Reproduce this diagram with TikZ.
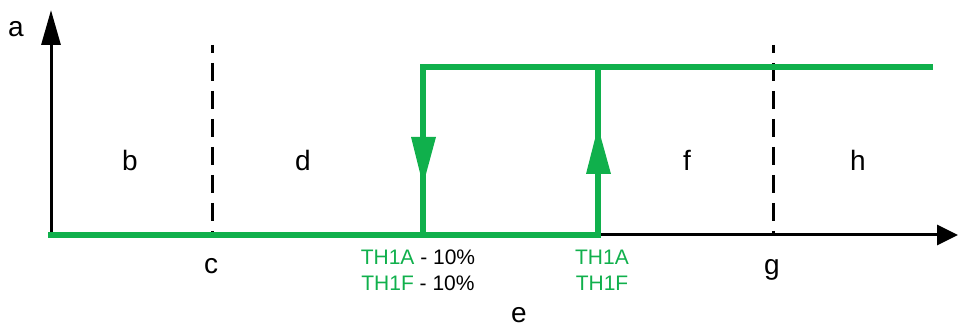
\documentclass[tikz,border=0pt]{standalone}
\usepackage{fontspec}
\setmainfont{Liberation Sans}
\usetikzlibrary{arrows.meta}
\definecolor{grn}{RGB}{16,176,76}
\begin{document}
\begin{tikzpicture}[x=1pt,y=-1pt,
  lbl/.style={font=\fontsize{21}{24}\selectfont, inner sep=0pt},
  big/.style={font=\fontsize{28}{32}\selectfont, inner sep=0pt},
  axis/.style={line width=3pt, black},
  grnline/.style={line width=5.5pt, grn, line cap=rect},
  guide/.style={line width=3pt, black, dash pattern=on 18pt off 10pt, dash phase=10pt},
  tri/.style={fill=grn}]
\useasboundingbox (0,0) rectangle (958,328);
% axes
\coordinate (o) at (51,235);
\coordinate (ytop) at (51,10);
\coordinate (xend) at (958,235);
\draw[axis, -{Triangle[length=35pt,width=19pt]}] (o) -- (ytop);
\draw[axis, -{Triangle[length=21pt,width=20pt]}] (o) -- (xend);
% dashed guides
\coordinate (c1t) at (212,45); \coordinate (c1b) at (212,235);
\coordinate (g1t) at (773,45); \coordinate (g1b) at (773,235);
\draw[guide] (c1t) -- (c1b);
\draw[guide] (g1t) -- (g1b);
% green hysteresis
\coordinate (s0) at (48,235);
\coordinate (p1) at (423,235);
\coordinate (p2) at (423,67);
\coordinate (q1) at (598,235);
\coordinate (q2) at (598,67);
\coordinate (tend) at (930,67);
\draw[grnline, line cap=butt] (s0) -- (q1);
\draw[grnline, line join=miter] (p1) -- (p2) -- (tend);
\draw[grnline] (q2) -- (q1);
\fill[tri] (411,137) -- (436,137) -- (423,185) -- cycle;
\fill[tri] (586,174) -- (611,174) -- (598,127) -- cycle;
% labels
\node[big] (a) at (16,29) {a};
\node[big] (b) at (130,160) {b};
\node[big] (d) at (303,160) {d};
\node[big] (f) at (687,160) {f};
\node[big] (h) at (858,160) {h};
\node[big] (c) at (211,266) {c};
\node[big] (g) at (772,270) {g};
\node[big] (e) at (519,315) {e};
\node[lbl] (l1) at (418,257) {\textcolor{grn}{TH1A} - 10\%};
\node[lbl] (l2) at (418,283) {\textcolor{grn}{TH1F} - 10\%};
\node[lbl, text=grn] (r1) at (602,257) {TH1A};
\node[lbl, text=grn] (r2) at (602,283) {TH1F};
\end{tikzpicture}
\end{document}
